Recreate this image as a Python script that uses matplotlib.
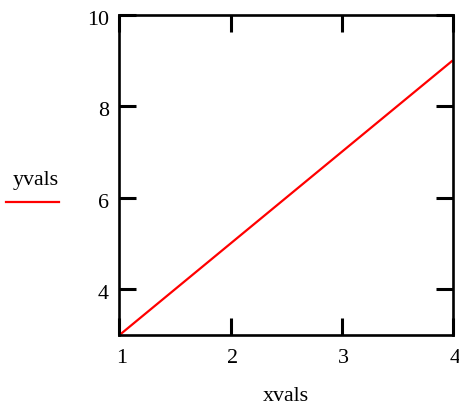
import matplotlib
matplotlib.use("Agg")
import matplotlib.pyplot as plt
import matplotlib.transforms as mtransforms
from matplotlib.lines import Line2D

xvals = [1, 2, 3, 4]
yvals = [3, 5, 7, 9]
xticks = [1, 2, 3, 4]
yticks = [4, 6, 8, 10]

plt.rcParams['font.family'] = ['Liberation Serif', 'DejaVu Serif']
FS = 15.8

fig = plt.figure(figsize=(4.6, 4.07), dpi=100)
ax = fig.add_axes([119.5/460, 1-335/407, (452.7-119.5)/460, (335-14.7)/407])
line, = ax.plot(xvals, yvals, color='#ff0000', lw=1.6, solid_capstyle='butt')
ax.set_xlim(1, 4)
ax.set_ylim(3, 10)
ax.set_xticks(xticks)
ax.set_yticks(yticks)
ax.set_xticklabels([str(v) for v in xticks])
ax.set_yticklabels([str(v) for v in yticks])
for s in ax.spines.values():
    s.set_linewidth(1.9)
ax.tick_params(direction='in', length=12, width=2.2, top=True, right=True,
               labelsize=FS, pad=7.5)
ax.tick_params(axis='x', pad=10)
ax.set_xlabel('xvals', fontsize=FS, labelpad=14)

dx = mtransforms.ScaledTranslation(2/100, 0, fig.dpi_scale_trans)
for lbl in ax.get_xticklabels():
    lbl.set_transform(lbl.get_transform() + dx)
dy = mtransforms.ScaledTranslation(0, -3/100, fig.dpi_scale_trans)
for lbl in ax.get_yticklabels():
    lbl.set_transform(lbl.get_transform() + dy)

fig.text(36/460, 1-181/407, 'yvals', fontsize=FS, ha='center', va='center')
leg = fig.legend(handles=[Line2D([0], [0], color='#ff0000', lw=1.6)], labels=[''],
                 loc='center', bbox_to_anchor=(32.5/460, 1-204/407),
                 frameon=False, handlelength=53/(FS*100/72), handletextpad=0,
                 borderpad=0, borderaxespad=0, fontsize=FS)

fig.savefig('out.png', dpi=100)
